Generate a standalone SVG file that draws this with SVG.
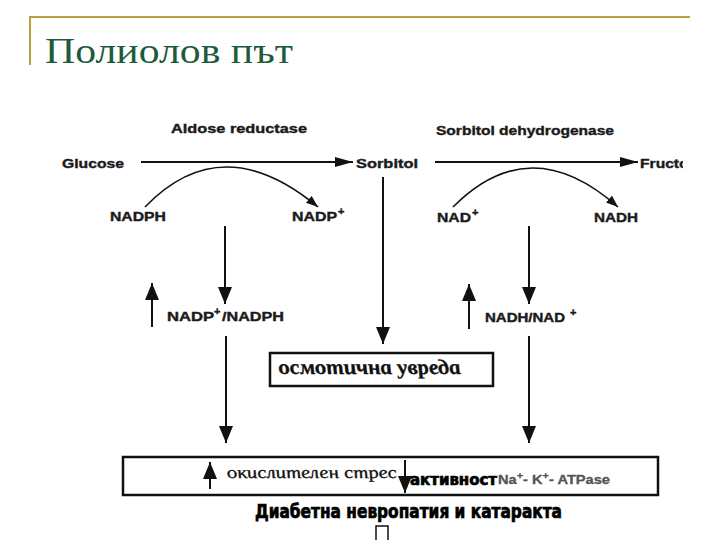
<svg xmlns="http://www.w3.org/2000/svg" width="720" height="540" viewBox="0 0 720 540">
<style>
.lbl{font-family:"Liberation Sans",Arial,sans-serif;font-weight:bold;font-size:13.5px;fill:#1a1a1a;stroke:#1a1a1a;stroke-width:0.4}
.sup{font-family:"Liberation Sans",Arial,sans-serif;font-weight:bold;font-size:11px;fill:#1a1a1a;stroke:#1a1a1a;stroke-width:0.4}
.ln{stroke:#111;stroke-width:2;fill:none}
.cv{stroke:#111;stroke-width:1.6;fill:none}
.box{fill:#fff;stroke:#111;stroke-width:2.5}
.ser{font-family:"Liberation Serif","Times New Roman",serif;font-style:italic;fill:#111}
.imp{font-family:"DejaVu Sans Condensed","DejaVu Sans",sans-serif;font-weight:bold;fill:#000;stroke:#000;stroke-width:0.7}
</style>
<defs>
<marker id="hv" viewBox="0 0 17 14" markerWidth="17" markerHeight="14" refX="17" refY="7" orient="auto" markerUnits="userSpaceOnUse"><path d="M0,0 L17,7 L0,14 z" fill="#111"/></marker>
<marker id="hh" viewBox="0 0 18 10" markerWidth="18" markerHeight="10" refX="18" refY="5" orient="auto" markerUnits="userSpaceOnUse"><path d="M0,0 L18,5 L0,10 z" fill="#111"/></marker>
<marker id="hc" viewBox="0 0 12 9" markerWidth="12" markerHeight="9" refX="12" refY="4.5" orient="auto" markerUnits="userSpaceOnUse"><path d="M0,0 L12,4.5 L0,9 z" fill="#111"/></marker>
<clipPath id="clipR"><rect x="0" y="0" width="683" height="540"/></clipPath>
</defs>
<rect width="720" height="540" fill="#fff"/>
<g id="title">
<path d="M30,65 L30,17 L690,17" fill="none" stroke="#b8a23c" stroke-width="2"/>
<text x="45" y="63" font-family="Liberation Serif,serif" font-size="36" fill="#1e5b3c" textLength="248" lengthAdjust="spacingAndGlyphs">Полиолов път</text>
</g>
<g id="connectors">
<line class="ln" x1="141" y1="162" x2="353" y2="162" marker-end="url(#hh)"/>
<line class="ln" x1="435" y1="162" x2="638" y2="162" marker-end="url(#hh)"/>
<path class="cv" d="M145,207 Q222,127 318,207" marker-end="url(#hc)"/>
<path class="cv" d="M453,207 Q530,129 618,207" marker-end="url(#hc)"/>
<line class="ln" x1="225" y1="226" x2="225" y2="304" marker-end="url(#hv)"/>
<line class="ln" x1="383" y1="177" x2="383" y2="344" marker-end="url(#hv)"/>
<line class="ln" x1="529" y1="226" x2="529" y2="304" marker-end="url(#hv)"/>
<line class="ln" x1="152" y1="327" x2="152" y2="283" marker-end="url(#hv)"/>
<line class="ln" x1="469" y1="329" x2="469" y2="284" marker-end="url(#hv)"/>
<line class="ln" x1="226" y1="336" x2="226" y2="443" marker-end="url(#hv)"/>
<line class="ln" x1="529" y1="336" x2="529" y2="443" marker-end="url(#hv)"/>
</g>
<g id="aldose"><text class="lbl" x="171" y="133" textLength="136" lengthAdjust="spacingAndGlyphs">Aldose reductase</text></g>
<g id="sdh"><text class="lbl" x="436" y="135" textLength="178" lengthAdjust="spacingAndGlyphs">Sorbitol dehydrogenase</text></g>
<g id="glucose"><text class="lbl" x="62" y="168" textLength="62" lengthAdjust="spacingAndGlyphs">Glucose</text></g>
<g id="sorbitol"><text class="lbl" x="356" y="168" textLength="62" lengthAdjust="spacingAndGlyphs">Sorbitol</text></g>
<g id="fructose" clip-path="url(#clipR)"><text class="lbl" x="640" y="168" textLength="66" lengthAdjust="spacingAndGlyphs">Fructose</text></g>
<g id="nadph"><text class="lbl" x="110" y="221" textLength="56" lengthAdjust="spacingAndGlyphs">NADPH</text></g>
<g id="nadp"><text class="lbl" x="292" y="221" textLength="45" lengthAdjust="spacingAndGlyphs">NADP</text><text class="sup" x="338" y="215">+</text></g>
<g id="nad"><text class="lbl" x="437" y="222" textLength="34" lengthAdjust="spacingAndGlyphs">NAD</text><text class="sup" x="472" y="216">+</text></g>
<g id="nadh"><text class="lbl" x="594" y="222" textLength="44" lengthAdjust="spacingAndGlyphs">NADH</text></g>
<g id="ratio1"><text class="lbl" x="167" y="321" textLength="47" lengthAdjust="spacingAndGlyphs">NADP</text><text class="sup" x="214" y="315">+</text><text class="lbl" x="222" y="321" textLength="62" lengthAdjust="spacingAndGlyphs">/NADPH</text></g>
<g id="ratio2"><text class="lbl" x="485" y="322" textLength="80" lengthAdjust="spacingAndGlyphs">NADH/NAD</text><text class="sup" x="570" y="316">+</text></g>
<g id="osmotic">
<rect class="box" x="270" y="353" width="223" height="33"/>
<g transform="translate(280,374) skewX(16)"><text class="ser" font-weight="bold" font-size="21" stroke="#111" stroke-width="0.3" textLength="182" lengthAdjust="spacingAndGlyphs">осмотична увреда</text></g>
</g>
<g id="effects">
<rect class="box" x="123" y="457" width="535" height="38"/>
<line class="ln" x1="210" y1="489" x2="210" y2="462" marker-end="url(#hv)"/>
<g transform="translate(228,478) skewX(16)"><text class="ser" font-size="17" stroke="#111" stroke-width="0.3" textLength="170" lengthAdjust="spacingAndGlyphs">окислителен стрес</text></g>
<line class="ln" x1="405" y1="460" x2="405" y2="493" marker-end="url(#hv)"/>
<text class="imp" x="410" y="485" font-size="16" textLength="87" lengthAdjust="spacingAndGlyphs">активност</text>
<text x="498" y="484" font-family="Liberation Sans,Arial,sans-serif" font-weight="bold" font-size="12" fill="#555" stroke="#555" stroke-width="0.3" textLength="112" lengthAdjust="spacingAndGlyphs">Na<tspan font-size="9" dy="-5">+</tspan><tspan dy="5">- K</tspan><tspan font-size="9" dy="-5">+</tspan><tspan dy="5">- ATPase</tspan></text>
</g>
<g id="outcome">
<text class="imp" x="255" y="518" font-size="20" textLength="307" lengthAdjust="spacingAndGlyphs">Диабетна невропатия и катаракта</text>
<rect x="376" y="526" width="12" height="18" fill="none" stroke="#111" stroke-width="1.5"/>
</g>
</svg>
